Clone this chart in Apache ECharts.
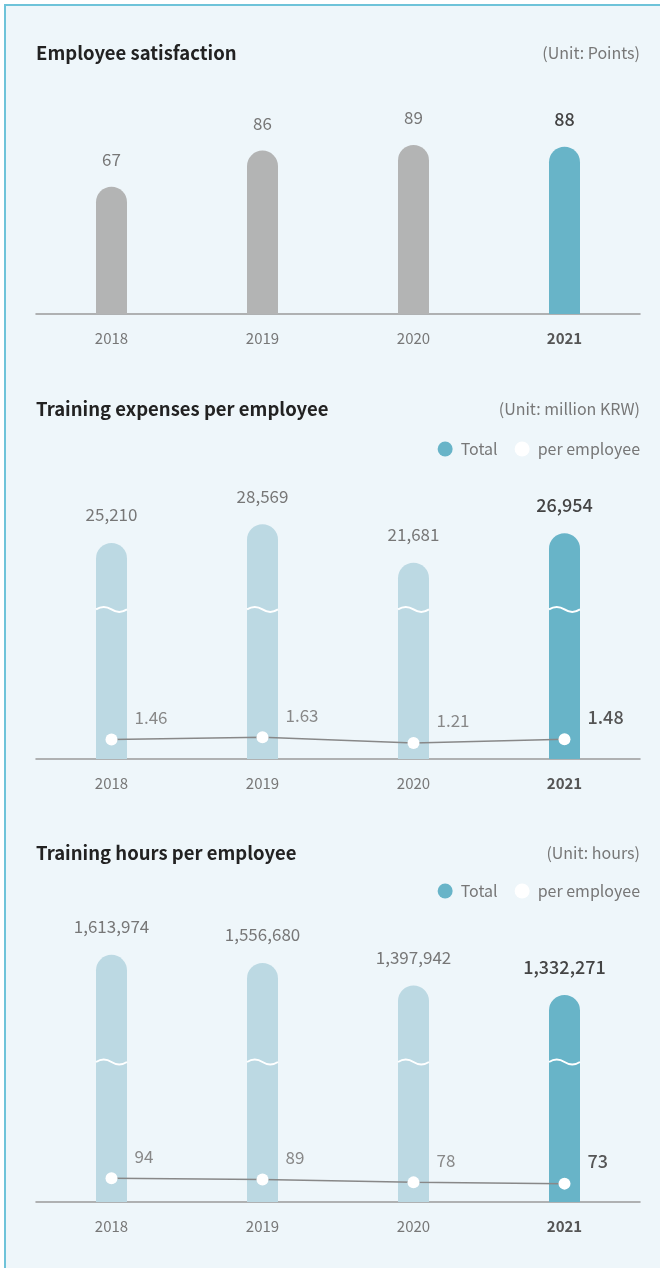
<!DOCTYPE html>
<html>
<head>
<meta charset="utf-8">
<script src="https://cdn.jsdelivr.net/npm/echarts@6/dist/echarts.min.js"></script>
<style>
  html, body { margin: 0; padding: 0; background: #fff; }
  #frame {
    position: absolute; left: 4px; top: 4px; width: 656px; height: 1264px;
    box-sizing: border-box; background: #eef6fa;
    border-left: 2px solid #6ec3d9; border-top: 2px solid #6ec3d9;
  }
  #chart { position: absolute; left: 0; top: 0; width: 660px; height: 1268px; }
</style>
</head>
<body>
<div id="frame"></div>
<div id="chart"></div>
<script>
const years = ['2018', '2019', '2020', '2021']
const satisfaction = [67, 86, 89, 88]
const expenseTotal = [25210, 28569, 21681, 26954]
const expensePerEmployee = [1.46, 1.63, 1.21, 1.48]
const hoursTotal = [1613974, 1556680, 1397942, 1332271]
const hoursPerEmployee = [94, 89, 78, 73]

const FONT = '"Noto Sans CJK KR", "Noto Sans", sans-serif'
const GRAY_BAR = '#b3b4b4'
const TEAL = '#68b4c8'
const LIGHT = '#bcd9e3'
const last = years.length - 1

const chart = echarts.init(document.getElementById('chart'))

function fmt(v) {
  return v.toLocaleString('en-US')
}

// rounded bar drawn from the bottom of the grid, with a white wavy break mark
function breakBar(breakAt) {
  return function (params, api) {
    const i = api.value(0)
    const v = api.value(1)
    const top = api.coord([i, v])
    const cs = params.coordSys
    const bottom = cs.y + cs.height
    const w = 31
    const x0 = top[0] - w / 2
    const wy = api.coord([i, breakAt])[1]
    const hl = params.dataIndex === last
    const wave = 'M' + x0 + ' ' + wy +
      ' Q' + (x0 + w / 4) + ' ' + (wy - 5) + ' ' + (x0 + w / 2) + ' ' + wy +
      ' Q' + (x0 + w * 3 / 4) + ' ' + (wy + 5) + ' ' + (x0 + w) + ' ' + wy
    return {
      type: 'group',
      children: [{
        type: 'rect',
        shape: { x: x0, y: top[1], width: w, height: bottom - top[1], r: [15.5, 15.5, 0, 0] },
        style: { fill: hl ? TEAL : LIGHT }
      }, {
        type: 'path',
        shape: { pathData: wave },
        style: { fill: null, stroke: '#fff', lineWidth: 2 }
      }, {
        type: 'text',
        x: top[0],
        y: top[1] - 28,
        style: {
          text: fmt(v),
          align: 'center',
          verticalAlign: 'middle',
          fontFamily: FONT,
          fontSize: hl ? 18 : 17,
          fontWeight: hl ? 500 : 'normal',
          fill: hl ? '#444' : '#777'
        }
      }]
    }
  }
}

function xAxisFor(gridIndex, show) {
  return {
    type: 'category',
    gridIndex,
    show,
    data: years,
    axisLine: { onZero: false, lineStyle: { color: '#9a9a9a', width: 1.5 } },
    axisTick: { show: false },
    axisLabel: {
      margin: 17,
      fontFamily: FONT,
      fontSize: 15,
      color: '#777',
      formatter: (v, i) => (i === last ? '{hl|' + v + '}' : v),
      rich: { hl: { fontFamily: FONT, fontSize: 15, color: '#555', fontWeight: 'bold' } }
    }
  }
}

function hiddenY(gridIndex, min, max) {
  return { type: 'value', gridIndex, min, max, show: false, splitLine: { show: false } }
}

function lineSeries(xi, yi, values, digits) {
  return {
    name: 'per employee',
    type: 'line',
    xAxisIndex: xi,
    yAxisIndex: yi,
    z: 5,
    symbol: 'circle',
    symbolSize: 12,
    itemStyle: { color: '#fff' },
    lineStyle: { color: '#888', width: 1.5 },
    label: {
      show: true,
      position: 'right',
      distance: 17,
      offset: [0, -22],
      fontFamily: FONT,
      fontSize: 17,
      color: '#888',
      formatter: p => p.value.toFixed(digits)
    },
    data: values.map((v, i) => i === last
      ? { value: v, label: { color: '#555', fontSize: 18, fontWeight: 500 } }
      : v)
  }
}

function titleRow(text, unit, top) {
  return [{
    text,
    left: 36,
    top,
    padding: 0,
    textStyle: { fontFamily: FONT, fontSize: 18.5, fontWeight: 'bold', color: '#222', lineHeight: 24 }
  }, {
    text: unit,
    right: 20,
    top: top + 1,
    padding: 0,
    textStyle: { fontFamily: FONT, fontSize: 16, fontWeight: 'normal', color: '#777', lineHeight: 22 }
  }]
}

function legendAt(top) {
  return {
    top,
    right: 20,
    padding: 0,
    icon: 'circle',
    itemWidth: 15,
    itemHeight: 15,
    itemGap: 17,
    selectedMode: false,
    textStyle: { fontFamily: FONT, fontSize: 16, color: '#777', padding: [0, 0, 0, 3] },
    data: ['Total', 'per employee']
  }
}

chart.setOption({
  animation: false,
  title: [].concat(
    titleRow('Employee satisfaction', '(Unit: Points)', 41),
    titleRow('Training expenses per employee', '(Unit: million KRW)', 397),
    titleRow('Training hours per employee', '(Unit: hours)', 841)
  ),
  legend: [legendAt(441), legendAt(883)],
  grid: [
    { left: 36, right: 20, top: 124, height: 190 },
    { left: 36, right: 20, top: 480, height: 279 },
    { left: 36, right: 20, top: 900, height: 302 }
  ],
  xAxis: [xAxisFor(0, true), xAxisFor(1, true), xAxisFor(1, false), xAxisFor(2, true), xAxisFor(2, false)],
  yAxis: [
    hiddenY(0, 0, 100),
    hiddenY(1, -13500, 36500),
    hiddenY(1, 0, 21),
    hiddenY(2, -125000, 2000000),
    hiddenY(2, 0, 1200)
  ],
  series: [{
    name: 'Satisfaction',
    type: 'bar',
    xAxisIndex: 0,
    yAxisIndex: 0,
    barWidth: 31,
    itemStyle: { color: GRAY_BAR, borderRadius: [15.5, 15.5, 0, 0] },
    label: {
      show: true,
      position: 'top',
      distance: 19,
      fontFamily: FONT,
      fontSize: 17,
      color: '#777'
    },
    data: satisfaction.map((v, i) => i === last
      ? { value: v, itemStyle: { color: TEAL }, label: { color: '#444', fontSize: 18, fontWeight: 500 } }
      : v)
  }, {
    name: 'Total',
    type: 'custom',
    xAxisIndex: 1,
    yAxisIndex: 1,
    itemStyle: { color: TEAL },
    renderItem: breakBar(13300),
    encode: { x: 0, y: 1 },
    data: expenseTotal.map((v, i) => [i, v])
  },
  lineSeries(2, 2, expensePerEmployee, 2),
  {
    name: 'Total',
    type: 'custom',
    xAxisIndex: 3,
    yAxisIndex: 3,
    itemStyle: { color: TEAL },
    renderItem: breakBar(860000),
    encode: { x: 0, y: 1 },
    data: hoursTotal.map((v, i) => [i, v])
  },
  lineSeries(4, 4, hoursPerEmployee, 0)
  ]
})
</script>
</body>
</html>
